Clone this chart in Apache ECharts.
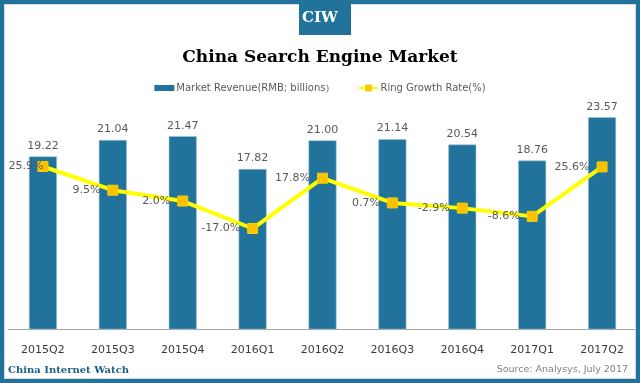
<!DOCTYPE html>
<html><head><meta charset="utf-8">
<script src="https://cdn.jsdelivr.net/npm/echarts@6/dist/echarts.min.js"></script>
<style>html,body{margin:0;padding:0;background:#fff}#c{width:640px;height:383px}</style>
</head><body><div id="c"></div>
<script>
const categories = ['2015Q2','2015Q3','2015Q4','2016Q1','2016Q2','2016Q3','2016Q4','2017Q1','2017Q2'];
const revenue = [19.22, 21.04, 21.47, 17.82, 21.00, 21.14, 20.54, 18.76, 23.57];
const growth = [25.9, 9.5, 2.0, -17.0, 17.8, 0.7, -2.9, -8.6, 25.6];
const revenueName = 'Market Revenue(RMB; billions）';
const growthName = 'Ring Growth Rate(%)';

const blue = '#22739b';
const sans = 'DejaVu Sans';
const serif = 'DejaVu Serif';

const chart = echarts.init(document.getElementById('c'), null, {renderer:'canvas'});
chart.setOption({
  animation: false,
  backgroundColor: '#fff',
  title: {
    text: 'China Search Engine Market',
    left: 'center', top: 44,
    textStyle: {fontFamily: serif, fontWeight: 'bold', fontSize: 17, color: '#000'}
  },
  legend: {
    top: 78, left: 'center',
    itemWidth: 20, itemHeight: 6, itemGap: 22,
    textStyle: {fontFamily: sans, fontSize: 10, color: '#595959', padding:[0,0,0,-3]},
    data: [{name: revenueName, icon: 'rect', itemStyle: {borderWidth: 0}}, {name: growthName}]
  },
  grid: {left: 8, right: 3, top: 59.4, bottom: 50, containLabel: false},
  xAxis: {
    type: 'category', data: categories,
    axisLine: {lineStyle: {color: '#a6a6a6', width: 1}},
    axisTick: {show: false},
    axisLabel: {fontFamily: sans, fontSize: 11, color: '#3a3a3a', margin: 12}
  },
  yAxis: [
    {type: 'value', min: -0.4, max: 30, show: false, splitLine: {show: false}},
    {type: 'value', min: -89.3, max: 100, show: false, splitLine: {show: false}}
  ],
  series: [
    {
      name: revenueName, type: 'bar', data: revenue, barWidth: 28,
      itemStyle: {color: blue, borderColor: '#9fc3d6', borderWidth: 0.6},
      label: {show: true, position: 'top', distance: 5, fontFamily: sans, fontSize: 11, color: '#595959',
        formatter: p => p.value.toFixed(2)}
    },
    {
      name: growthName, type: 'line', yAxisIndex: 1, data: growth.map((v, i) => i === 0 ? {value: v, label: {offset: [13, 0]}} : v),
      symbol: 'rect', symbolSize: 10,
      lineStyle: {color: '#ffff00', width: 4},
      itemStyle: {color: '#ffc000', borderColor: '#f2d200', borderWidth: 1},
      z: 3,
      label: {show: true, position: 'left', distance: 7, fontFamily: sans, fontSize: 11, color: '#595959',
        formatter: p => p.value.toFixed(1) + '%'}
    }
  ],
  graphic: [
    {type: 'rect', z: 100, shape: {x: 2, y: 2, width: 636, height: 379}, style: {fill: null, stroke: blue, lineWidth: 4}},
    {type: 'rect', z: 100, shape: {x: 4.5, y: 4.5, width: 631, height: 374}, style: {fill: null, stroke: '#d9d9d9', lineWidth: 1}},
    {type: 'rect', z: 101, shape: {x: 299, y: 3, width: 52, height: 32}, style: {fill: blue}},
    {type: 'text', z: 102, left: 'center', top: 11, style: {text: 'CIW', fill: '#fff', font: 'bold 15px "DejaVu Serif"'}},
    {type: 'text', z: 102, left: 8, top: 365, style: {text: 'China Internet Watch', fill: '#1f5f85', font: 'bold 10px "DejaVu Serif"'}},
    {type: 'text', z: 102, right: 12, top: 365, style: {text: 'Source: Analysys, July 2017', fill: '#7f7f7f', font: '9.5px "DejaVu Sans"'}}
  ]
});
</script></body></html>
